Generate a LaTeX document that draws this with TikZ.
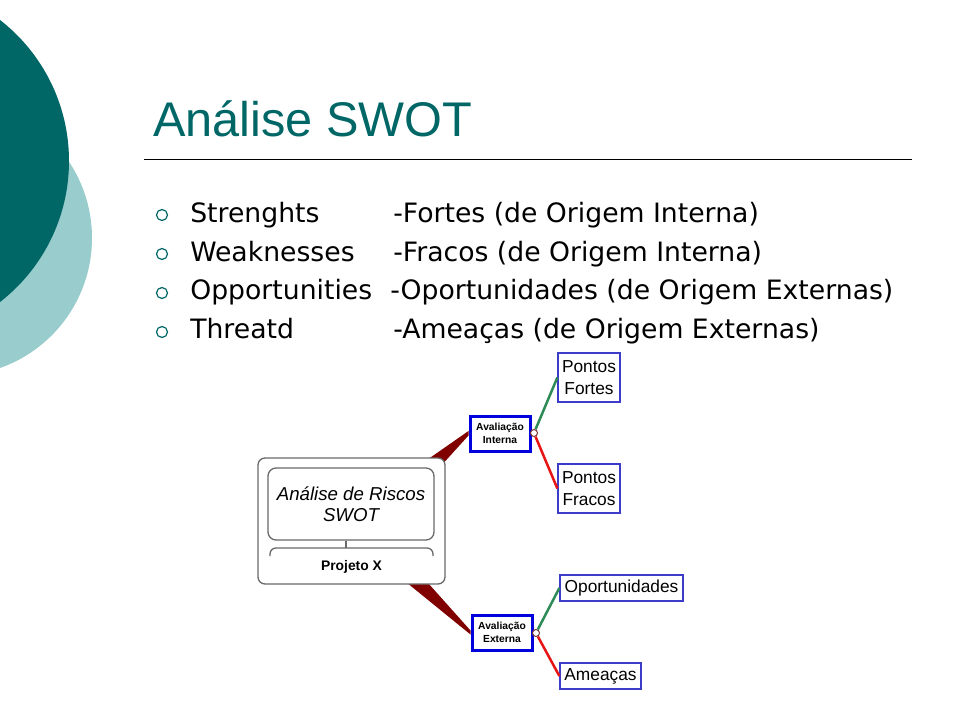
\documentclass[tikz,border=0pt]{standalone}
\usepackage{fontspec}
\setmainfont{Liberation Sans}
\newfontfamily\verdana{DejaVu Sans}
\usetikzlibrary{backgrounds}
\newlength\px
\setlength\px{0.75pt}
\definecolor{swotteal}{RGB}{0,102,102}
\definecolor{lightteal}{RGB}{153,204,204}
\definecolor{avalblue}{RGB}{0,0,220}
\definecolor{leafblue}{RGB}{60,60,200}
\definecolor{posgreen}{RGB}{46,139,87}
\definecolor{negred}{RGB}{230,20,20}
\definecolor{knotred}{RGB}{120,50,50}
\definecolor{wedgered}{RGB}{128,0,0}
\definecolor{framegray}{RGB}{105,105,105}
\tikzset{
    bulletmark/.style={circle, draw=swotteal, line width=1.2\px, minimum size=11\px, inner sep=0pt},
    itemtext/.style={font=\verdana\fontsize{20}{24}\selectfont, inner sep=0pt, anchor=base west},
    avalbox/.style={draw=avalblue, line width=3\px, fill=white, minimum width=60\px, minimum height=35\px,
        inner sep=0pt, align=center, font=\bfseries\fontsize{7.7}{9.75}\selectfont},
    leafbox/.style={draw=leafblue, line width=1.3\px, inner sep=0pt, minimum height=26\px, align=center,
        font=\fontsize{13}{16.5}\selectfont},
    knot/.style={circle, draw=knotred, fill=white, line width=1\px, minimum size=7\px, inner sep=0pt},
    posline/.style={draw=posgreen, line width=2.5\px},
    negline/.style={draw=negred, line width=2.5\px},
    wedge/.style={fill=wedgered},
    frame/.style={draw=framegray, line width=1.3\px, rounded corners=7\px}
}
\begin{document}
\begin{tikzpicture}[x=0.75pt, y=-0.75pt]
    \useasboundingbox (0,0) rectangle (960,720);
    \clip (0,0) rectangle (960,720);
    \fill[lightteal] (-45.8,238) circle[radius=137.8\px];
    \fill[swotteal] (-109.6,161) circle[radius=178.6\px];

    \node[anchor=base west, inner sep=0pt, text=swotteal, font=\fontsize{36.5}{43}\selectfont] (title) at (153,137) {Análise SWOT};
    \draw[line width=1\px] (144,160) -- (912,160);

    \node[bulletmark] (b1) at (162,215) {};
    \node[itemtext] (s1) at (190,223) {Strenghts};
    \node[itemtext] (p1) at (393,223) {-Fortes (de Origem Interna)};
    \node[bulletmark] (b2) at (162,254) {};
    \node[itemtext] (s2) at (190,262) {Weaknesses};
    \node[itemtext] (p2) at (393,262) {-Fracos (de Origem Interna)};
    \node[bulletmark] (b3) at (162,293) {};
    \node[itemtext] (s3) at (190,300) {Opportunities};
    \node[itemtext] (p3) at (390,300) {-Oportunidades (de Origem Externas)};
    \node[bulletmark] (b4) at (162,332) {};
    \node[itemtext] (s4) at (190,339) {Threatd};
    \node[itemtext] (p4) at (393,339) {-Ameaças (de Origem Externas)};

    % mapa
    \node[frame, fill=white, minimum width=187\px, minimum height=126\px] (riscos) at (351.5,521) {};
    \node[frame, rounded corners=8\px, minimum width=166\px, minimum height=72\px, align=center,
        font=\itshape\fontsize{14}{16}\selectfont] (titulo) at (351,504) {Análise de Riscos\\SWOT};
    \coordinate (arctop) at (346,548);
    \draw[frame, rounded corners=6\px] (270,556) |- (arctop) -| (433,556);
    \draw[frame] (titulo.south -| arctop) -- (arctop);
    \node[font=\bfseries\fontsize{10.4}{12}\selectfont, inner sep=0pt] (projeto) at (351.5,567) {Projeto X};

    \node[avalbox] (interna) at (500,433.5) {Avaliação\\Interna};
    \node[avalbox] (externa) at (502,632.5) {Avaliação\\Externa};
    \begin{scope}[on background layer]
        \fill[wedge] ([yshift=2.5\px]interna.west) -- ([yshift=-2\px]interna.west)
            -- ([xshift=-6\px, yshift=-10\px]riscos.north east) -- ([xshift=-25\px, yshift=-7\px]riscos.north east) -- cycle;
        \fill[wedge] ([yshift=2\px]externa.west) -- ([yshift=-2\px]externa.west)
            -- ([xshift=-47.5\px, yshift=9\px]riscos.south east) -- ([xshift=-24.2\px, yshift=9\px]riscos.south east) -- cycle;
    \end{scope}

    \node[leafbox, minimum width=62\px, minimum height=49\px] (fortes) at (589,377.5) {Pontos\\Fortes};
    \node[leafbox, minimum width=62\px, minimum height=49\px] (fracos) at (589,488.5) {Pontos\\Fracos};
    \node[leafbox, minimum width=123\px] (oport) at (621.5,588) {Oportunidades};
    \node[leafbox, minimum width=81\px] (ameacas) at (600.5,676) {Ameaças};

    \node[knot] (kint) at (534,433) {};
    \node[knot] (kext) at (536,633) {};
    \draw[posline] (kint) -- (fortes.west);
    \draw[negline] (kint) -- (fracos.west);
    \draw[posline] (kext) -- (oport.west);
    \draw[negline] (kext) -- (ameacas.west);
\end{tikzpicture}
\end{document}
